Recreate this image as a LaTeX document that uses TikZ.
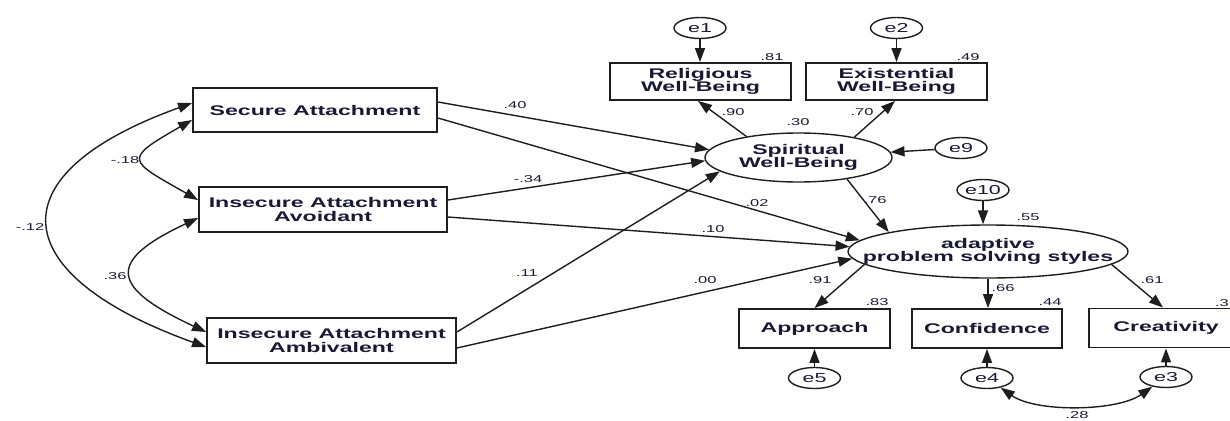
\documentclass[tikz,border=0pt]{standalone}
\usepackage{fontspec}
\newfontfamily\wf{Liberation Sans}[FakeStretch=1.65]
\usetikzlibrary{arrows.meta,shapes.geometric}
\definecolor{txt}{RGB}{25,25,55}
\definecolor{ln}{RGB}{30,30,30}
\begin{document}
\begin{tikzpicture}[x=1pt,y=-1pt,
  box/.style={draw=ln,line width=1.9pt,inner sep=0pt,align=center,
    font=\wf\fontsize{14}{13.5}\selectfont\bfseries,text=txt},
  lat/.style={ellipse,draw=ln,line width=1.4pt,inner sep=0pt},
  lattxt/.style={align=center,font=\wf\fontsize{14}{13.5}\selectfont\bfseries,text=txt},
  err/.style={ellipse,draw=ln,line width=1.4pt,inner sep=0pt,minimum width=52pt,
    minimum height=21pt,font=\wf\fontsize{13}{13}\selectfont,text=txt},
  num/.style={font=\wf\fontsize{10}{10}\selectfont,text=txt,inner sep=0pt},
  arr/.style={-{Triangle[length=14pt,width=10pt]},line width=1.4pt,draw=ln},
  cov/.style={{Triangle[length=14pt,width=10pt]}-{Triangle[length=14pt,width=10pt]},line width=1.4pt,draw=ln}]
\useasboundingbox (0,0) rectangle (1230,420);

% exogenous boxes
\node[box,minimum width=244pt,minimum height=44pt] (SA) at (315,110) {Secure Attachment};
\node[box,minimum width=248pt,minimum height=45pt] (IAv) at (323,209.5) {Insecure Attachment\\Avoidant};
\node[box,minimum width=249pt,minimum height=45pt] (IAm) at (331.5,340.5) {Insecure Attachment\\Ambivalent};

% spiritual indicators
\node[box,minimum width=181pt,minimum height=37pt] (Rel) at (700.5,81.5) {Religious\\Well-Being};
\node[box,minimum width=181pt,minimum height=37pt] (Ex) at (896.5,81.5) {Existential\\Well-Being};

% latent variables
\node[lat,minimum width=187pt,minimum height=49pt,
  label={[lattxt]center:Spiritual\\Well-Being}] (SWB) at (798.5,157.5) {};
\node[lat,minimum width=280pt,minimum height=53pt,
  label={[lattxt]center:adaptive\\problem solving styles}] (APS) at (988,251.5) {};

% outcome boxes
\node[box,minimum width=151pt,minimum height=39pt] (App) at (814.5,328.5) {Approach};
\node[box,minimum width=150pt,minimum height=39pt] (Con) at (987,328.5) {Confidence};
\node[box,minimum width=154pt,minimum height=39pt] (Cre) at (1166,328) {Creativity};

% error terms
\node[err] (e1) at (700,28) {e1};
\node[err] (e2) at (896.5,28) {e2};
\node[err] (e9) at (961,148) {e9};
\node[err] (e10) at (983,190) {e10};
\node[err] (e5) at (814.5,378) {e5};
\node[err] (e4) at (987,378) {e4};
\node[err] (e3) at (1166,377) {e3};

% covariances on the left
\draw[cov] ([yshift=7pt]SA.west) .. controls +(-200,72) and +(-200,-72) .. ([yshift=-6.5pt]IAm.west);
\draw[cov] ([yshift=-10pt]SA.west) .. controls +(-70,40) and +(-70,-40) .. ([yshift=9.5pt]IAv.west);
\draw[cov] ([yshift=-8.5pt]IAv.west) .. controls +(-94,44) and +(-94,-44) .. ([yshift=8.5pt]IAm.west);

% paths to SWB
\draw[arr] ([yshift=8pt]SA.east) -- (SWB.175);
\draw[arr] ([yshift=9.5pt]IAv.east) -- (SWB.182);
\draw[arr] ([yshift=8.5pt]IAm.east) -- (SWB.190);

% paths to APS
\draw[arr] ([yshift=-8pt]SA.east) -- (APS.175);
\draw[arr] ([yshift=-7.5pt]IAv.east) -- (APS.178);
\draw[arr] ([yshift=-7.5pt]IAm.east) -- (APS.183);
\draw[arr] (SWB.-24) -- (APS.169);

% SWB indicators
\draw[arr] (SWB.158) -- ([xshift=-2.5pt]Rel.south);
\draw[arr] (SWB.20) -- ([xshift=-1.5pt]Ex.south);
\draw[arr] (e1.south) -- (e1.south |- Rel.north);
\draw[arr] (e2.south) -- (e2.south |- Ex.north);
\draw[arr] (e9) -- (SWB);

% APS indicators
\draw[arr] (e10.south) -- (e10.south |- APS.north);
\draw[arr] (APS.186) -- (App.north);
\draw[arr] (APS.south) -- (APS.south |- Con.north);
\draw[arr] (APS.-6) -- ([xshift=-3pt]Cre.north);
\draw[arr] (e5.north) -- (e5.north |- App.south);
\draw[arr] (e4.north) -- (e4.north |- Con.south);
\draw[arr] (e3.north) -- (e3.north |- Cre.south);
\draw[cov] (e4.-35) .. controls +(35,25) and +(-35,25) .. (e3.215);

% coefficients
\node[num] (n1) at (515,105) {.40};
\node[num] (n2) at (528,179) {-.34};
\node[num] (n3) at (527,273) {.11};
\node[num] (n4) at (757,203) {.02};
\node[num] (n5) at (713,229) {.10};
\node[num] (n6) at (705,280) {.00};
\node[num] (n7) at (733,112) {.90};
\node[num] (n8) at (862,112) {.70};
\node[num] (n9) at (798,122) {.30};
\node[num] (n10) at (772,57) {.81};
\node[num] (n11) at (968,57) {.49};
\node[num] (n12) at (875,200) {.76};
\node[num] (n13) at (1028,217) {.55};
\node[num] (n14) at (820,280) {.91};
\node[num] (n15) at (1003,288) {.66};
\node[num] (n16) at (1152,280) {.61};
\node[num] (n17) at (877,302) {.83};
\node[num] (n18) at (1050,302) {.44};
\node[num,anchor=east] (n19) at (1229,303) {.3};
\node[num] (n20) at (1077,415) {.28};
\node[num] (n21) at (125,160) {-.18};
\node[num] (n22) at (30,227) {-.12};
\node[num] (n23) at (115,276) {.36};
\end{tikzpicture}
\end{document}
